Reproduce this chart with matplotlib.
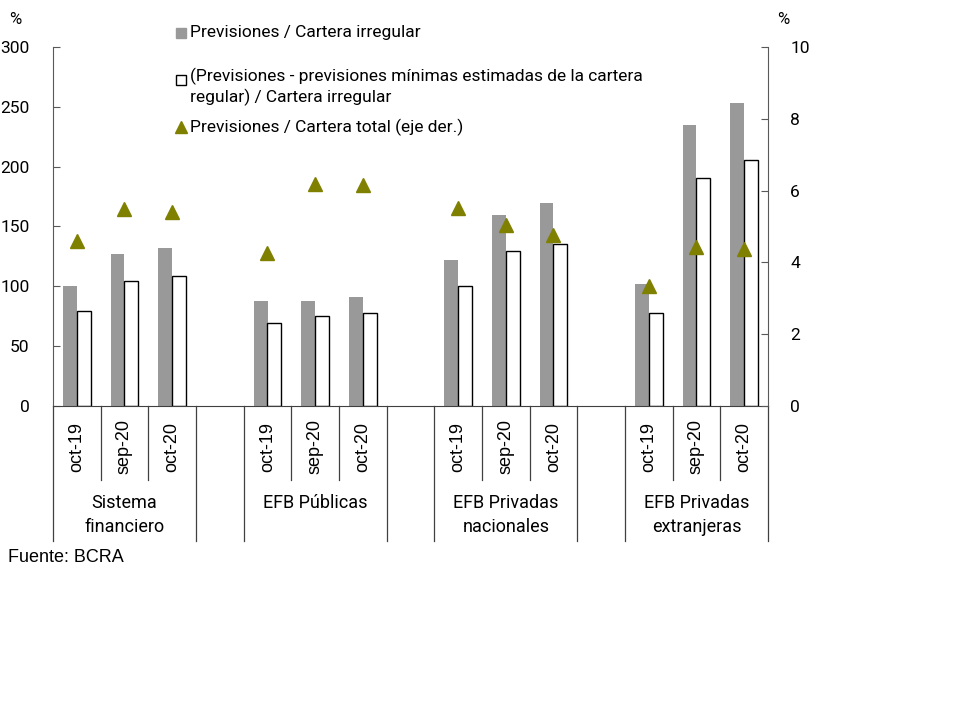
import matplotlib.pyplot as plt
from matplotlib.patches import Rectangle
from matplotlib.lines import Line2D
from matplotlib.transforms import blended_transform_factory, ScaledTranslation

plt.rcParams['font.family'] = ['Roboto', 'DejaVu Sans']

# data
grupos = ["Sistema\nfinanciero", "EFB Públicas", "EFB Privadas\nnacionales", "EFB Privadas\nextranjeras"]
fechas = ["oct-19", "sep-20", "oct-20"]
prev_irregular = [100, 127, 132, 87.5, 87.5, 91, 122, 160, 170, 102, 235, 253]
prev_neta = [79, 104.5, 108.7, 69, 75, 77.5, 100, 129.5, 135.3, 77.5, 190.5, 205.5]
prev_total = [4.6, 5.48, 5.41, 4.26, 6.19, 6.16, 5.51, 5.05, 4.77, 3.33, 4.43, 4.37]

gris = "#999999"
oliva = "#808000"
eje = "#595959"

fig = plt.figure(figsize=(9.6, 7.2), dpi=100)
ax = fig.add_axes([53 / 960, 1 - 406 / 720, 715 / 960, 359 / 720])
ax2 = ax.twinx()

# 4 slots per group: 3 dates + 1 empty gap
centros = [g * 4 + i + 0.5 for g in range(4) for i in range(3)]
w = 0.29
ax.bar([c - w / 2 for c in centros], prev_irregular, width=w, color=gris, zorder=2)
ax.bar([c + w / 2 for c in centros], prev_neta, width=w, color="white",
       edgecolor="black", linewidth=1, zorder=2)
ax2.plot(centros, prev_total, linestyle="none", marker="^", markersize=10,
         color=oliva, zorder=3)

ax.set_xlim(0, 15)
ax.set_ylim(0, 300)
ax.set_yticks(range(0, 301, 50))
ax2.set_ylim(0, 10)
ax2.set_yticks(range(0, 11, 2))
ax.set_xticks([])

for a in (ax, ax2):
    for s in a.spines.values():
        s.set_visible(False)
ax.spines["left"].set_visible(True)
ax.spines["left"].set_color(eje)
ax2.spines["right"].set_visible(True)
ax2.spines["right"].set_color(eje)
ax.spines["bottom"].set_visible(True)
ax.spines["bottom"].set_color("#404040")

ax.tick_params(axis="y", direction="in", length=5, color=eje, labelsize=12.5, pad=17)
ax2.tick_params(axis="y", direction="in", length=5, color=eje, labelsize=12.5, pad=16)

# category axis: separators, date labels and group labels
tr = blended_transform_factory(ax.transData, ax.transAxes)
for x in range(16):
    largo = x % 4 in (0, 3)
    y_fin = -(541 - 406) / 359 if largo else -(480 - 406) / 359
    ax.add_line(Line2D([x, x], [0, y_fin], transform=tr, color="#404040",
                       linewidth=0.9, clip_on=False))

for k, c in enumerate(centros):
    ax.text(c, -(447 - 406) / 359, fechas[k % 3], transform=tr, rotation=90,
            ha="center", va="center", fontsize=13, family="Liberation Sans")

for g, nombre in enumerate(grupos):
    ax.text(g * 4 + 1.5, -(494 - 406) / 359, nombre, transform=tr,
            ha="center", va="top", fontsize=13, linespacing=1.4)

fig.text(15 / 960, 1 - 20 / 720, "%", fontsize=12, ha="center", va="center")
fig.text(783 / 960, 1 - 20 / 720, "%", fontsize=12, ha="center", va="center")
fig.text(8 / 960, 1 - 558 / 720, "Fuente: BCRA", fontsize=13, va="center",
         family="Liberation Sans")

# legend drawn by hand to keep the original spacing
def caja(y, color, edge):
    fig.add_artist(Rectangle((176 / 960, 1 - (y + 5) / 720), 10 / 960, 10 / 720,
                             facecolor=color, edgecolor=edge, linewidth=1,
                             transform=fig.transFigure))

caja(33, gris, gris)
fig.text(190 / 960, 1 - 33 / 720, "Previsiones / Cartera irregular", fontsize=12.5, va="center")
caja(80, "white", "black")
fig.text(190 / 960, 1 - 80 / 720,
         "(Previsiones - previsiones mínimas estimadas de la cartera\nregular) / Cartera irregular",
         fontsize=12.5, va="top", linespacing=1.3,
         transform=fig.transFigure + ScaledTranslation(0, 9 / 72, fig.dpi_scale_trans))
fig.add_artist(Line2D([181 / 960], [1 - 127 / 720], marker="^", markersize=9,
                      color=oliva, linestyle="none", transform=fig.transFigure))
fig.text(190 / 960, 1 - 127 / 720, "Previsiones / Cartera total (eje der.)", fontsize=12.5, va="center")

fig.savefig("out.png", dpi=100)
